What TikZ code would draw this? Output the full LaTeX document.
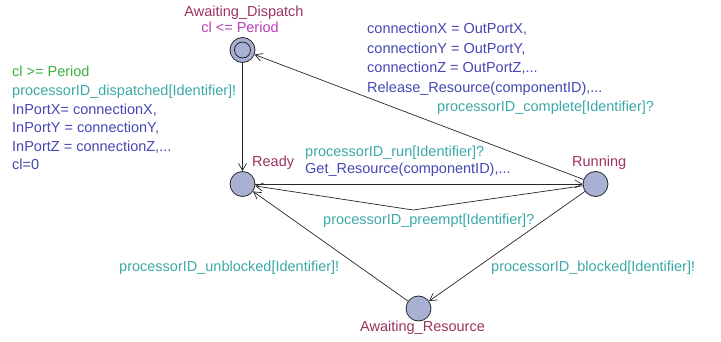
\documentclass[tikz,border=0pt]{standalone}
\usepackage{fontspec}
\setmainfont{Liberation Sans}
\usetikzlibrary{arrows.meta}

% colours of the automaton elements
\definecolor{locname}{RGB}{155,50,95}
\definecolor{invcol}{RGB}{185,60,185}
\definecolor{guardcol}{RGB}{60,175,60}
\definecolor{synccol}{RGB}{60,168,168}
\definecolor{assigncol}{RGB}{70,70,180}
\definecolor{locfill}{RGB}{168,176,212}

\begin{document}
\begin{tikzpicture}[x=1pt,y=-1pt,
  every node/.style={font=\fontsize{14.5}{18}\selectfont, inner sep=0pt},
  loc/.style={circle, draw=black!85, line width=0.8pt, fill=locfill, minimum size=25pt},
  lbl/.style={anchor=base west},
  locname/.style={lbl, text=locname},
  inv/.style={lbl, text=invcol},
  guard/.style={lbl, text=guardcol},
  sync/.style={lbl, text=synccol},
  assign/.style={lbl, text=assigncol},
  trans/.style={draw=black!85, line width=0.7pt, -{Straight Barb[length=7pt,width=8pt]}}]
\useasboundingbox (0,0) rectangle (721,342);

% locations
\node[loc] (disp)  at (242.5,50)  {};
\draw[black!85, line width=0.8pt] (disp.center) circle[radius=8pt];
\node[loc] (ready) at (242.5,184) {};
\node[loc] (run)   at (595.5,184) {};
\node[loc] (res)   at (418.5,308.5) {};
\coordinate (nail) at (413,210);

% location names and invariant
\node[locname, anchor=base] (dispname) at (244,17) {Awaiting\_Dispatch};
\node[inv, anchor=base] (dispinv) at (240,33) {cl <= Period};
\node[locname] (readyname) at (252,166.5) {Ready};
\node[locname] (runname) at (572,166.5) {Running};
\node[locname] (resname) at (360,331) {Awaiting\_Resource};

% transitions
\draw[trans] (disp) -- (ready);
\draw[trans] (run) -- (disp);
\draw[trans] (ready) -- (run);
\draw[trans] (run) -- (nail) -- (ready);
\draw[trans] (res) -- (ready);
\draw[trans] (run) -- (res);

% dispatch edge labels
\node[guard]  (g1) at (12,77)    {cl >= Period};
\node[sync]   (s1) at (12,95.6)  {processorID\_dispatched[Identifier]!};
\node[assign] (a1) at (12,114.2) {InPortX= connectionX,};
\node[assign] (a2) at (12,132.8) {InPortY = connectionY,};
\node[assign] (a3) at (12,151.4) {InPortZ = connectionZ,...};
\node[assign] (a4) at (12,170)   {cl=0};

% completion edge labels
\node[assign] (c1) at (367,34)    {connectionX = OutPortX,};
\node[assign] (c2) at (367,53.3)  {connectionY = OutPortY,};
\node[assign] (c3) at (367,72.7)  {connectionZ = OutPortZ,...};
\node[assign] (c4) at (367,92.5)  {Release\_Resource(componentID),...};
\node[sync]   (c5) at (437,111.5) {processorID\_complete[Identifier]?};

% run / preempt edge labels
\node[sync]   (r1) at (305,156.5) {processorID\_run[Identifier]?};
\node[assign] (r2) at (305,174)   {Get\_Resource(componentID),...};
\node[sync]   (p1) at (323,224.5) {processorID\_preempt[Identifier]?};

% blocking edge labels
\node[sync] (u1) at (119,271.5) {processorID\_unblocked[Identifier]!};
\node[sync] (b1) at (491,271.5) {processorID\_blocked[Identifier]!};
\end{tikzpicture}
\end{document}
